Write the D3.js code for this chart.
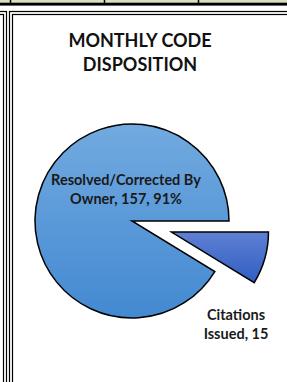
<!DOCTYPE html>
<html><head><meta charset="utf-8">
<script src="https://cdn.jsdelivr.net/npm/d3@7"></script>
<style>html,body{margin:0;padding:0;background:#fff;overflow:hidden}</style>
</head><body>
<svg id="c" width="287" height="382"></svg>
<script>
const title = ["MONTHLY CODE", "DISPOSITION"];
const categories = ["Resolved/Corrected By Owner", "Citations Issued"];
const values = [157, 15];
const labelLines = [["Resolved/Corrected By", "Owner, 157, 91%"], ["Citations", "Issued, 15"]];
const gridCols = [10.5, 104.5, 198.5];

const svg = d3.select("#c");
const W = 287, H = 382;

// spreadsheet context
svg.append("rect").attr("x",0).attr("y",0).attr("width",W).attr("height",2).attr("fill","#d6e3bc");
svg.append("rect").attr("x",0).attr("y",2.6).attr("width",W).attr("height",3).attr("fill","#000");
svg.selectAll("line.grid").data(gridCols).join("line")
  .attr("x1",d=>d).attr("x2",d=>d).attr("y1",0).attr("y2",3)
  .attr("stroke","#000").attr("stroke-width",1.5);

function dbl(x,y,w,h){
  svg.append("rect").attr("x",x).attr("y",y).attr("width",w).attr("height",h)
    .attr("fill","none").attr("stroke","#000").attr("stroke-width",1.2);
  svg.append("rect").attr("x",x+3).attr("y",y+3).attr("width",w-6).attr("height",h-6)
    .attr("fill","none").attr("stroke","#000").attr("stroke-width",1.2);
}
dbl(-20, 11.5, 26.5, 420);
dbl(9.5, 11.5, 320, 420);

// title
const ff = "Lato, 'Open Sans', sans-serif";
svg.selectAll("text.title").data(title).join("text")
  .attr("x",140).attr("y",(d,i)=>46.5+i*24.5)
  .attr("text-anchor","middle").attr("font-family",ff).attr("font-weight","bold")
  .attr("font-size",18).attr("fill","#111").text(d=>d);

// gradients
const defs = svg.append("defs");
const grads = [["g0","#72aae0","#4389d1"],["g1","#5f80d3","#2f5ec2"]];
grads.forEach(([id,a,b])=>{
  const g = defs.append("linearGradient").attr("id",id).attr("x1",0).attr("y1",0).attr("x2",0).attr("y2",1);
  g.append("stop").attr("offset","0%").attr("stop-color",a);
  g.append("stop").attr("offset","100%").attr("stop-color",b);
});

const total = d3.sum(values);
const start = Math.PI/2 + 2*Math.PI*values[1]/total;
const pie = d3.pie().sort(null).startAngle(start).endAngle(start+2*Math.PI);
const arcs = pie(values);
const r = 97, cx = 132, cy = 221, explode = [0, 41];
const arc = d3.arc().innerRadius(0).outerRadius(r);

const g = svg.append("g").attr("transform",`translate(${cx},${cy})`);
g.selectAll("path").data(arcs).join("path")
  .attr("d",arc)
  .attr("transform",(d,i)=>{
    const m=(d.startAngle+d.endAngle)/2;
    return `translate(${Math.sin(m)*explode[i]},${-Math.cos(m)*explode[i]})`;
  })
  .attr("fill",(d,i)=>`url(#g${i})`)
  .attr("stroke","#000").attr("stroke-width",1.5).attr("stroke-linejoin","miter");

// labels
const labelPos = [[126,185],[236,320]];
labelLines.forEach((lines,i)=>{
  svg.selectAll(null).data(lines).join("text")
    .attr("x",labelPos[i][0]).attr("y",(d,j)=>labelPos[i][1]+j*18.5)
    .attr("text-anchor","middle").attr("font-family",ff).attr("font-weight","bold")
    .attr("font-size",14.5).attr("fill","#1a1a1a").text(d=>d);
});
</script>
</body></html>
